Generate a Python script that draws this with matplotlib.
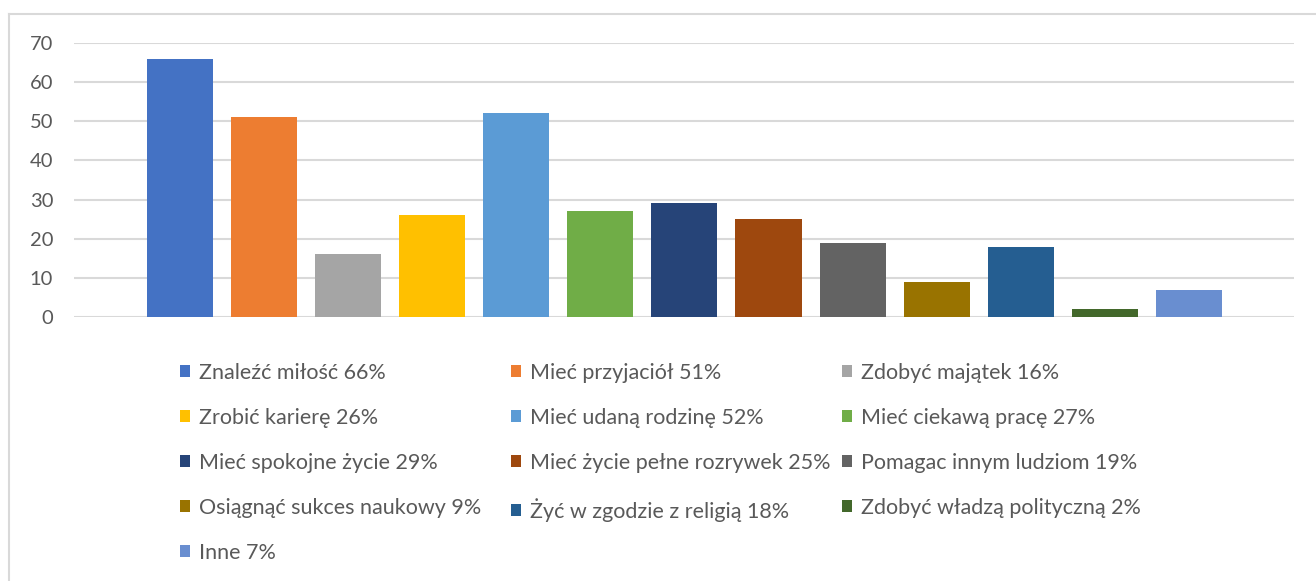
import matplotlib
matplotlib.use("Agg")
import matplotlib.pyplot as plt
from matplotlib.patches import Patch
from matplotlib.lines import Line2D

labels = ["Znaleźć miłość 66%", "Mieć przyjaciół 51%", "Zdobyć majątek 16%",
          "Zrobić karierę 26%", "Mieć udaną rodzinę 52%", "Mieć ciekawą pracę 27%",
          "Mieć spokojne życie 29%", "Mieć życie pełne rozrywek 25%", "Pomagac innym ludziom 19%",
          "Osiągnąć sukces naukowy 9%", "Żyć w zgodzie z religią 18%", "Zdobyć władzą polityczną 2%",
          "Inne 7%"]
values = [66, 51, 16, 26, 52, 27, 29, 25, 19, 9, 18, 2, 7]
colors = ["#4472C4", "#ED7D31", "#A5A5A5", "#FFC000", "#5B9BD5", "#70AD47",
          "#264478", "#9E480E", "#636363", "#997300", "#255E91", "#43682B", "#698ED0"]
yticks = [0, 10, 20, 30, 40, 50, 60, 70]

plt.rcParams['font.family'] = ['Lato', 'DejaVu Sans']

W, H = 1316, 581
fig = plt.figure(figsize=(W/100, H/100), dpi=100)
ax = fig.add_axes([74/W, 1-317/H, (1294-74)/W, (317-43)/H])

x = list(range(len(values)))
ax.bar(x, values, width=0.785, color=colors, zorder=3)
ax.set_xlim(-1.26, len(values)-1+1.25)
ax.set_ylim(0, 70)
ax.set_yticks(yticks)
ax.set_xticks([])
ax.grid(axis='y', color='#D9D9D9', linewidth=1.5, zorder=0)
for s in ax.spines.values():
    s.set_visible(False)
ax.tick_params(axis='y', length=0, pad=15, labelsize=14.5, labelcolor='#595959')

# chart border (left and top)
fig.add_artist(Line2D([9/W, 9/W], [0, 1-14/H], color='#D9D9D9', linewidth=1.5, transform=fig.transFigure))
fig.add_artist(Line2D([9/W, 1], [1-14/H, 1-14/H], color='#D9D9D9', linewidth=1.5, transform=fig.transFigure))

# legend: 3 fixed-width columns filled row by row
ncol = 3
col_x = [180, 511, 842]
for c in range(ncol):
    idx = list(range(c, len(labels), ncol))
    handles = [Patch(facecolor=colors[i], edgecolor='none') for i in idx]
    leg = fig.legend(handles, [labels[i] for i in idx], ncol=1, loc='upper left',
                     bbox_to_anchor=(col_x[c]/W, 1-363/H), bbox_transform=fig.transFigure,
                     frameon=False, fontsize=15.5, borderpad=0, borderaxespad=0,
                     handlelength=0.48, handleheight=0.48, handletextpad=0.4,
                     labelspacing=1.16)
    for t in leg.get_texts():
        t.set_color('#595959')

fig.savefig("out.png", dpi=100)
